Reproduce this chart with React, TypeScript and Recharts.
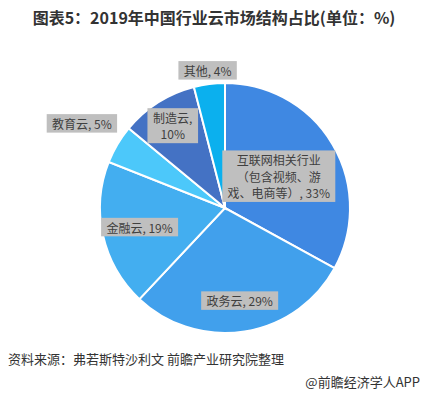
import { PieChart, Pie, Cell } from "recharts";

const categories = ["互联网相关行业（包含视频、游戏、电商等）", "政务云", "金融云", "教育云", "制造云", "其他"];
const shares = [33, 29, 19, 5, 10, 4];
const labelLines = [
  ["互联网相关行业", "（包含视频、游", "戏、电商等）, 33%"],
  ["政务云, 29%"],
  ["金融云, 19%"],
  ["教育云, 5%"],
  ["制造云,", "10%"],
  ["其他, 4%"],
];
const colors = ["#3F88E2", "#41A0EC", "#43AEF0", "#4CC8FA", "#4472C4", "#0BB0EE"];
// how far from the centre each label box sits, as a share of the radius
const labelRadius = [0.5, 0.75, 0.7, 1.33, 0.78, 1.11];

const data = categories.map((name, i) => ({ name, value: shares[i] }));

const RADIAN = Math.PI / 180;
const FONT = "'Noto Sans CJK SC', 'Microsoft YaHei', sans-serif";

function textWidth(s: string) {
  let w = 0;
  for (const ch of s) w += ch.charCodeAt(0) > 255 ? 12 : 6.6;
  return w;
}

function renderLabel(props: any) {
  const { cx, cy, midAngle, outerRadius, index } = props;
  const r = outerRadius * labelRadius[index];
  const x = cx + r * Math.cos(-midAngle * RADIAN);
  const y = cy + r * Math.sin(-midAngle * RADIAN);
  const lines = labelLines[index];
  const lh = 16.5;
  const w = Math.max(...lines.map(textWidth)) + 8;
  const h = lines.length * lh + 2;
  return (
    <g key={"lbl" + index}>
      <rect x={x - w / 2} y={y - h / 2} width={w} height={h} fill="#BFBFBF" />
      {lines.map((t, k) => (
        <text
          key={k}
          x={x}
          y={y - h / 2 + 1 + lh * k + lh / 2}
          textAnchor="middle"
          dominantBaseline="central"
          fontSize={12}
          fontFamily={FONT}
          fill="#404040"
        >
          {t}
        </text>
      ))}
    </g>
  );
}

export default function App() {
  return (
    <div style={{ position: "relative", width: 428, height: 395, background: "#fff", fontFamily: FONT }}>
      <style>{"body{margin:0}"}</style>
      <div
        style={{
          position: "absolute",
          top: 5,
          left: 0,
          width: 428,
          textAlign: "center",
          fontSize: 16,
          fontWeight: "bold",
          color: "#333",
        }}
      >
        图表5：2019年中国行业云市场结构占比(单位：%)
      </div>
      <div style={{ position: "absolute", top: 0, left: 0 }}>
        <PieChart width={428} height={395}>
          <Pie
            data={data}
            dataKey="value"
            nameKey="name"
            cx={220}
            cy={203}
            outerRadius={125}
            startAngle={90}
            endAngle={-270}
            stroke="#fff"
            strokeWidth={2}
            label={renderLabel}
            labelLine={false}
            isAnimationActive={false}
          >
            {data.map((d, i) => (
              <Cell key={d.name} fill={colors[i]} />
            ))}
          </Pie>
        </PieChart>
      </div>
      <div style={{ position: "absolute", top: 349, left: 8, fontSize: 13, color: "#333" }}>
        资料来源：弗若斯特沙利文 前瞻产业研究院整理
      </div>
      <div style={{ position: "absolute", top: 372, right: 8, fontSize: 13, color: "#333" }}>
        @前瞻经济学人APP
      </div>
    </div>
  );
}
